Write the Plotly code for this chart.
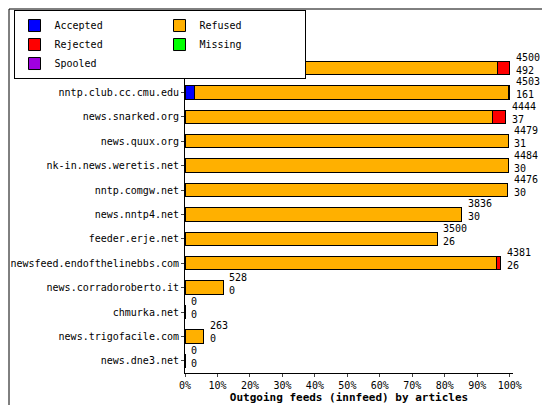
import plotly.graph_objects as go

hosts = ["news.sonologic.net","nntp.club.cc.cmu.edu","news.snarked.org","news.quux.org",
         "nk-in.news.weretis.net","nntp.comgw.net","news.nntp4.net","feeder.erje.net",
         "newsfeed.endofthelinebbs.com","news.corradoroberto.it","chmurka.net",
         "news.trigofacile.com","news.dne3.net"]
accepted = [480, 135, 10, 9, 9, 5, 6, 5, 5, 0, 0, 0, 0]
refused  = [3855, 4350, 4250, 4470, 4470, 4471, 3830, 3490, 4320, 528, 0, 263, 0]
rejected = [165, 18, 184, 0, 0, 0, 0, 5, 56, 0, 0, 0, 0]
missing  = [0, 0, 0, 0, 0, 0, 0, 0, 0, 0, 0, 0, 0]
spooled  = [0, 0, 0, 0, 5, 0, 0, 0, 0, 0, 0, 0, 0]
offered  = [4500, 4503, 4444, 4479, 4484, 4476, 3836, 3500, 4381, 528, 0, 263, 0]
second   = [492, 161, 37, 31, 30, 30, 30, 26, 26, 0, 0, 0, 0]
ticks = ["0%","10%","20%","30%","40%","50%","60%","70%","80%","90%","100%"]

mx = max(offered)
pct = lambda v: [x / mx * 100 for x in v]
series = [("Accepted", accepted, "#0000FF"), ("Refused", refused, "#FFB000"),
          ("Rejected", rejected, "#FF0000"), ("Missing", missing, "#00FF00"),
          ("Spooled", spooled, "#A000E0")]
font = "DejaVu Sans Mono"
fig = go.Figure()
for name, vals, col in series:
    fig.add_trace(go.Bar(y=hosts, x=pct(vals), name=name, orientation="h",
                         marker=dict(color=col, line=dict(color="black", width=1)),
                         width=0.55))
annots = [dict(x=p, y=h, text=f"{a}<br>{b}", xanchor="left", yanchor="middle",
               showarrow=False, xshift=4, yshift=4, align="left",
               font=dict(family=font, size=10, color="black"))
          for p, h, a, b in zip(pct(offered), hosts, offered, second)]
fig.update_layout(
    width=550, height=405, barmode="stack", plot_bgcolor="white", paper_bgcolor="white",
    margin=dict(l=177, r=45, t=42, b=40, autoexpand=False),
    font=dict(family=font, size=10, color="black"),
    annotations=annots,
    legend=dict(orientation="h", traceorder="normal", x=0.01, y=0.995, xref="container",
                yref="container", xanchor="left", yanchor="top", entrywidth=100,
                bgcolor="white", bordercolor="black", borderwidth=1,
                font=dict(size=10), itemwidth=30),
    xaxis=dict(range=[0, 101], tickvals=list(range(0, 101, 10)), ticktext=ticks,
               showgrid=False, showline=True, linecolor="black", ticks="outside",
               ticklen=3, zeroline=False,
               title=dict(text="<b>Outgoing feeds (innfeed) by articles</b>", standoff=2,
                          font=dict(size=11))),
    yaxis=dict(categoryorder="array", categoryarray=hosts[::-1], showgrid=False,
               showline=True, linecolor="black", ticks="outside", ticklen=3),
    shapes=[dict(type="rect", xref="paper", yref="paper", x0=-176/328, x1=1+44/328,
                 y0=-39/323, y1=1+41/323, line=dict(color="black", width=1))]
)
fig.write_html("out.html")
